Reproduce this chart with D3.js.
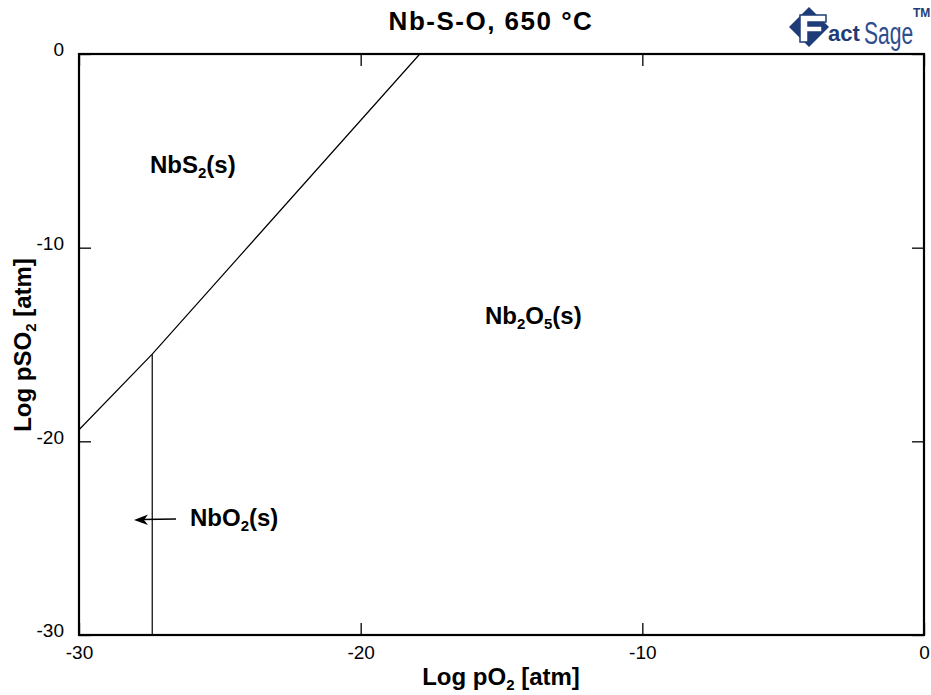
<!DOCTYPE html>
<html><head><meta charset="utf-8">
<script src="https://cdn.jsdelivr.net/npm/d3@7"></script>
<style>body{margin:0;background:#fff}svg{display:block}text{font-family:Arial,"Liberation Sans",sans-serif}</style>
</head><body>
<svg id="c" width="931" height="695"></svg>
<script>
const xDomain = [-30, 0];
const yDomain = [-30, 0];
const xTicks = [-30, -20, -10, 0];
const yTicks = [-30, -20, -10, 0];
// boundary NbS2 / oxides
const boundaryX = [-30, -27.4, -17.9];
const boundaryY = [-19.4, -15.5, 0];
// vertical NbO2 / Nb2O5 boundary
const vertX = [-27.4, -27.4];
const vertY = [-15.5, -30];

const svg = d3.select("#c");
const L = 79, R = 924, T = 54, B = 635;
const x = d3.scaleLinear().domain(xDomain).range([L, R]);
const y = d3.scaleLinear().domain(yDomain).range([B, T]);

const line = d3.line().x(d => x(d[0])).y(d => y(d[1]));
svg.append("path").datum(d3.zip(boundaryX, boundaryY)).attr("d", line)
  .attr("fill", "none").attr("stroke", "#000").attr("stroke-width", 1.2);
svg.append("path").datum(d3.zip(vertX, vertY)).attr("d", line)
  .attr("fill", "none").attr("stroke", "#000").attr("stroke-width", 1.2);

// axes (inward ticks)
const tl = 12;
const gB = svg.append("g").attr("transform", `translate(0,${B})`)
  .call(d3.axisBottom(x).tickValues(xTicks).tickSizeInner(-tl).tickSizeOuter(0).tickPadding(15).tickFormat(d3.format("d")));
const gT = svg.append("g").attr("transform", `translate(0,${T})`)
  .call(d3.axisTop(x).tickValues(xTicks).tickSizeInner(-tl).tickSizeOuter(0).tickFormat(""));
const gL = svg.append("g").attr("transform", `translate(${L},0)`)
  .call(d3.axisLeft(y).tickValues(yTicks).tickSizeInner(-tl).tickSizeOuter(0).tickPadding(15).tickFormat(d3.format("d")));
const gR = svg.append("g").attr("transform", `translate(${R},0)`)
  .call(d3.axisRight(y).tickValues(yTicks).tickSizeInner(-tl).tickSizeOuter(0).tickFormat(""));
[gB, gT, gL, gR].forEach(g => {
  g.select(".domain").remove();
  g.selectAll(".tick line").attr("stroke", "#000").attr("stroke-width", 1.3);
  g.selectAll(".tick text").attr("font-size", 19).attr("fill", "#000").attr("font-family", "Arial,'Liberation Sans',sans-serif");
});
gB.selectAll(".tick text").attr("dy", "0.45em");
gL.selectAll(".tick text").attr("dy", "0.1em");
// use hyphen-minus as in reference
[gB, gL].forEach(g => g.selectAll(".tick text").text(d => String(d)));

svg.append("rect").attr("x", L).attr("y", T).attr("width", R - L).attr("height", B - T)
  .attr("fill", "none").attr("stroke", "#000").attr("stroke-width", 2.2);

// title
svg.append("text").attr("x", 491).attr("y", 30).attr("text-anchor", "middle")
  .attr("font-size", 26).attr("font-weight", "bold").attr("letter-spacing", 1.5).text("Nb-S-O, 650 °C");

function chemText(px, py, parts, opts = {}) {
  const t = svg.append("text").attr("x", px).attr("y", py).attr("font-size", 24).attr("font-weight", "bold");
  if (opts.transform) t.attr("transform", opts.transform).attr("x", 0).attr("y", 0);
  if (opts.anchor) t.attr("text-anchor", opts.anchor);
  let lowered = false;
  parts.forEach(p => {
    const isSub = p.startsWith("_");
    const txt = isSub ? p.slice(1) : p;
    const ts = t.append("tspan").text(txt);
    if (isSub) { ts.attr("font-size", 15).attr("dy", lowered ? 0 : 5); lowered = true; }
    else { if (lowered) ts.attr("dy", -5); lowered = false; }
  });
  return t;
}

// axis titles
chemText(501, 685, ["Log pO", "_2", " [atm]"], {anchor: "middle"});
chemText(0, 0, ["Log pSO", "_2", " [atm]"], {anchor: "middle", transform: "translate(31,345) rotate(-90)"});

// region labels
chemText(150, 173, ["NbS", "_2", "(s)"]);
chemText(485, 324, ["Nb", "_2", "O", "_5", "(s)"]);
chemText(190, 526, ["NbO", "_2", "(s)"]);

// arrow
svg.append("line").attr("x1", 176).attr("y1", 519).attr("x2", 142).attr("y2", 519.5)
  .attr("stroke", "#000").attr("stroke-width", 1.3);
svg.append("path").attr("d", "M134,520 L148,514.5 L144,520 L148,525 Z").attr("fill", "#000");

// FactSage logo
const navy = "#1e3c78";
const lg = svg.append("g");
lg.append("path").attr("d", "M789,27 L809,7 L829,27 L809,47 Z").attr("fill", navy);
lg.append("path").attr("d", "M800,15 L826,15 L826,22 L808,22 L808,26 L822,26 L822,32 L808,32 L808,42 L800,42 Z")
  .attr("fill", "#fff").attr("stroke", navy).attr("stroke-width", 1.5);
lg.append("text").attr("x", 828).attr("y", 41).attr("font-size", 22).attr("font-weight", "bold")
  .attr("fill", navy).text("act");
lg.append("text").attr("x", 0).attr("y", 0).attr("font-size", 31)
  .attr("font-family", "'Liberation Sans Narrow','DejaVu Sans Condensed',sans-serif")
  .attr("fill", "#2e4e8e").attr("transform", "translate(864,44) scale(0.68,1)").text("Sage");
lg.append("text").attr("x", 913).attr("y", 17).attr("font-size", 12).attr("font-weight", "bold")
  .attr("fill", navy).text("TM");
</script>
</body></html>
